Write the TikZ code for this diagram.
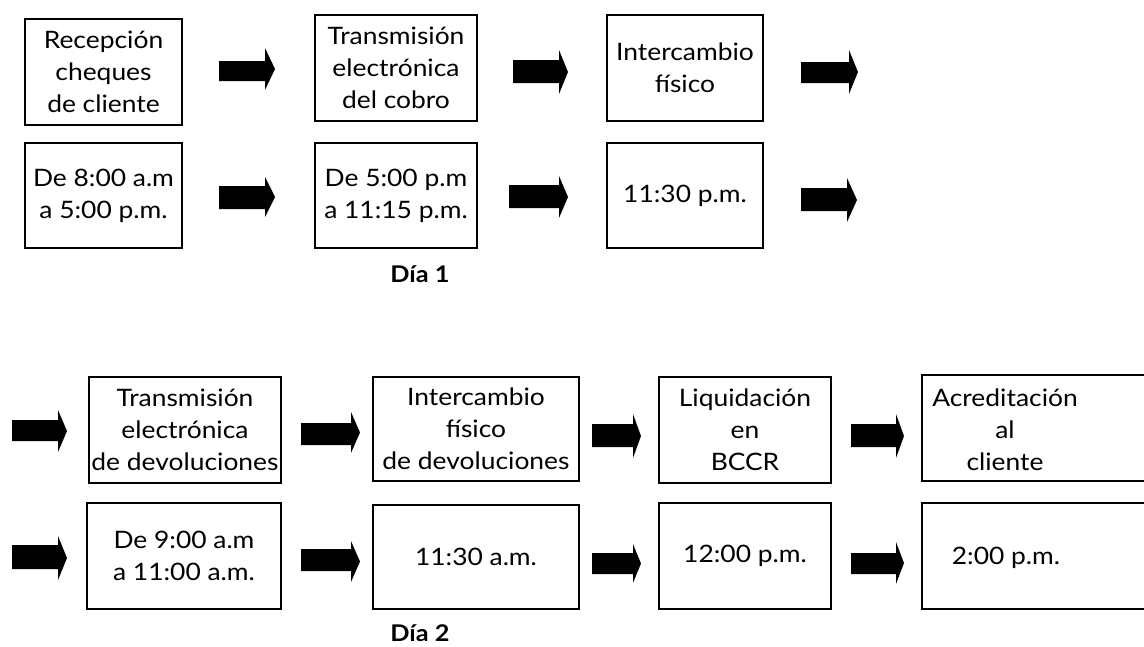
\documentclass[tikz,border=0pt]{standalone}
\usepackage{fontspec}
\setmainfont[FakeStretch=1.1]{Lato}
\newcommand\blkarrow[7]{\fill[black] (#1,#4) -- (#3,#4) -- (#3,#6) -- (#2,{(#6+#7)/2}) -- (#3,#7) -- (#3,#5) -- (#1,#5) -- cycle;}
\begin{document}
\begin{tikzpicture}[x=1pt,y=-1pt,
  box/.style={draw=black, line width=2pt, inner sep=0pt, align=center,
    font=\fontsize{24}{32}\selectfont},
  txt/.style={inner sep=0pt, align=center, font=\fontsize{24}{32}\selectfont},
  daylabel/.style={inner sep=0pt, font=\fontsize{23}{26}\selectfont\bfseries}]
\useasboundingbox (0,0) rectangle (1144,646);
\clip (0,0) rectangle (1144,646);
% ---- Dia 1, top row
\node[box, minimum width=157pt, minimum height=106pt] (r1) at (103.5,72) {Recepción\\cheques\\de cliente};
\node[box, minimum width=162pt, minimum height=106pt] (t1) at (396,68) {Transmisión\\electrónica\\del cobro};
\node[box, minimum width=156pt, minimum height=106pt] (i1) at (685,68) {Intercambio\\físico};
% ---- Dia 1, bottom row
\node[box, minimum width=157pt, minimum height=105pt] (r1h) at (103.5,195.5) {De 8:00 a.m\\a 5:00 p.m.};
\node[box, minimum width=162pt, minimum height=105pt] (t1h) at (396,195.5) {De 5:00 p.m\\a 11:15 p.m.};
\node[box, minimum width=156pt, minimum height=105pt] (i1h) at (685,195.5) {11:30 p.m.};
\node[daylabel] (d1) at (420,274) {Día 1};
% ---- Dia 2, top row
\node[box, minimum width=192pt, minimum height=106pt] (t2) at (185,430) {Transmisión\\electrónica\\de devoluciones};
\node[box, minimum width=206pt, minimum height=104pt] (i2) at (476,429) {Intercambio\\físico\\de devoluciones};
\node[box, minimum width=172pt, minimum height=106pt] (l2) at (745,430) {Liquidación\\en\\BCCR};
\node[box, minimum width=240pt, minimum height=106pt] (a2) at (1042,428) {};
\node[txt] (a2t) at (1005,430) {Acreditación\\al\\cliente};
% ---- Dia 2, bottom row
\node[box, minimum width=194pt, minimum height=106pt] (t2h) at (184,556) {De 9:00 a.m\\a 11:00 a.m.};
\node[box, minimum width=206pt, minimum height=104pt] (i2h) at (476,557) {11:30 a.m.};
\node[box, minimum width=172pt, minimum height=106pt] (l2h) at (745,556) {12:00 p.m.};
\node[box, minimum width=240pt, minimum height=106pt] (a2h) at (1042,556) {};
\node[txt] (a2ht) at (1006,558) {2:00 p.m.};
\node[daylabel] (d2) at (420,633) {Día 2};
% ---- block arrows, Dia 1
\blkarrow{219}{275}{265}{61}{81}{48}{90}
\blkarrow{513}{568}{559}{60}{83}{50}{94}
\blkarrow{801}{858}{849}{62}{83}{50}{94}
\blkarrow{219}{275}{265}{186}{209}{177}{217}
\blkarrow{509}{568}{559}{185}{208}{176}{218}
\blkarrow{801}{857}{847}{188}{211}{178}{222}
% ---- block arrows, Dia 2
\blkarrow{12}{67}{58}{420}{441}{410}{452}
\blkarrow{301}{360}{351}{423}{445}{412}{453}
\blkarrow{592}{641}{633}{424}{447}{414}{458}
\blkarrow{851}{904}{896}{424}{447}{414}{458}
\blkarrow{12}{67}{58}{545}{569}{536}{580}
\blkarrow{301}{360}{351}{549}{571}{541}{582}
\blkarrow{592}{641}{633}{553}{574}{544}{583}
\blkarrow{851}{904}{896}{553}{574}{542}{584}
\end{tikzpicture}
\end{document}
